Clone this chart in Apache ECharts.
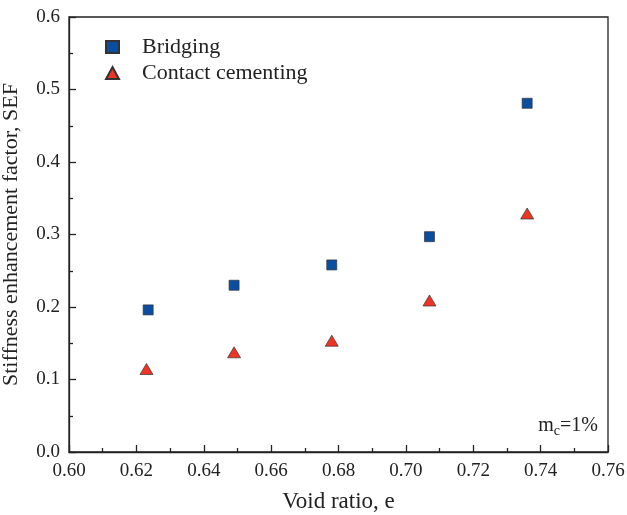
<!DOCTYPE html>
<html><head><meta charset="utf-8">
<script src="https://cdn.jsdelivr.net/npm/echarts@6/dist/echarts.min.js"></script>
<style>html,body{margin:0;padding:0;background:#fff}#c{width:627px;height:515px}</style>
</head><body><div id="c"></div>
<script>
const bridgingX = [0.6235, 0.649, 0.678, 0.707, 0.736];
const bridgingY = [0.196, 0.230, 0.258, 0.297, 0.481];
const cementX = [0.623, 0.649, 0.678, 0.707, 0.736];
const cementY = [0.1145, 0.1375, 0.1535, 0.209, 0.329];
const seriesNames = ['Bridging', 'Contact cementing'];
const xTitle = 'Void ratio, e';
const yTitle = 'Stiffness enhancement factor, SEF';

const font = 'Liberation Serif, Times New Roman, serif';
const chart = echarts.init(document.getElementById('c'));
const axisCommon = {
  axisLine: {show: true, onZero: false, lineStyle: {color: '#222', width: 1.3}},
  axisTick: {show: true, inside: true, length: 7, lineStyle: {color: '#222', width: 1.3}},
  minorTick: {show: true, splitNumber: 2, length: 4, lineStyle: {color: '#222', width: 1.3}},
  splitLine: {show: false},
  nameLocation: 'middle',
  nameTextStyle: {fontFamily: font, fontSize: 22, color: '#222'},
  axisLabel: {fontFamily: font, fontSize: 19, color: '#222'}
};
chart.setOption({
  animation: false,
  grid: {left: 69, top: 17, right: 19, bottom: 63, show: true, borderColor: '#222', borderWidth: 1.3,
         containLabel: false, outerBoundsMode: 'none'},
  legend: {
    orient: 'vertical', left: 100, top: 31, itemGap: 4, itemWidth: 13, itemHeight: 12,
    textStyle: {fontFamily: font, fontSize: 22, color: '#222', padding: [0, 0, 0, 18]},
    data: seriesNames
  },
  xAxis: Object.assign({}, axisCommon, {
    type: 'value', min: 0.60, max: 0.76, interval: 0.02,
    name: xTitle, nameGap: 38,
    nameTextStyle: Object.assign({}, axisCommon.nameTextStyle, {fontSize: 23}),
    axisLabel: Object.assign({}, axisCommon.axisLabel, {margin: 10, formatter: v => v.toFixed(2)})
  }),
  yAxis: Object.assign({}, axisCommon, {
    type: 'value', min: 0, max: 0.6, interval: 0.1,
    name: yTitle, nameGap: 47,
    axisLabel: Object.assign({}, axisCommon.axisLabel, {margin: 9, formatter: v => v.toFixed(1)})
  }),
  series: [
    {name: seriesNames[0], type: 'scatter', symbol: 'rect', symbolSize: 10,
     itemStyle: {color: '#0A4EA2', borderColor: '#333', borderWidth: 0.7, opacity: 1},
     data: bridgingX.map((x, i) => [x, bridgingY[i]])},
    {name: seriesNames[1], type: 'scatter', symbol: 'triangle', symbolSize: [13, 11],
     itemStyle: {color: '#EE3524', borderColor: '#333', borderWidth: 0.7, opacity: 1},
     data: cementX.map((x, i) => [x, cementY[i]])}
  ],
  graphic: [{
    type: 'text', right: 29, top: 416,
    style: {
      text: '{m|m}{s|c}{m|=1%}',
      rich: {
        m: {fontFamily: font, fontSize: 20, fill: '#222'},
        s: {fontFamily: font, fontSize: 14, fill: '#222', padding: [10, 0, 0, 0]}
      }
    }
  }]
});
</script></body></html>
